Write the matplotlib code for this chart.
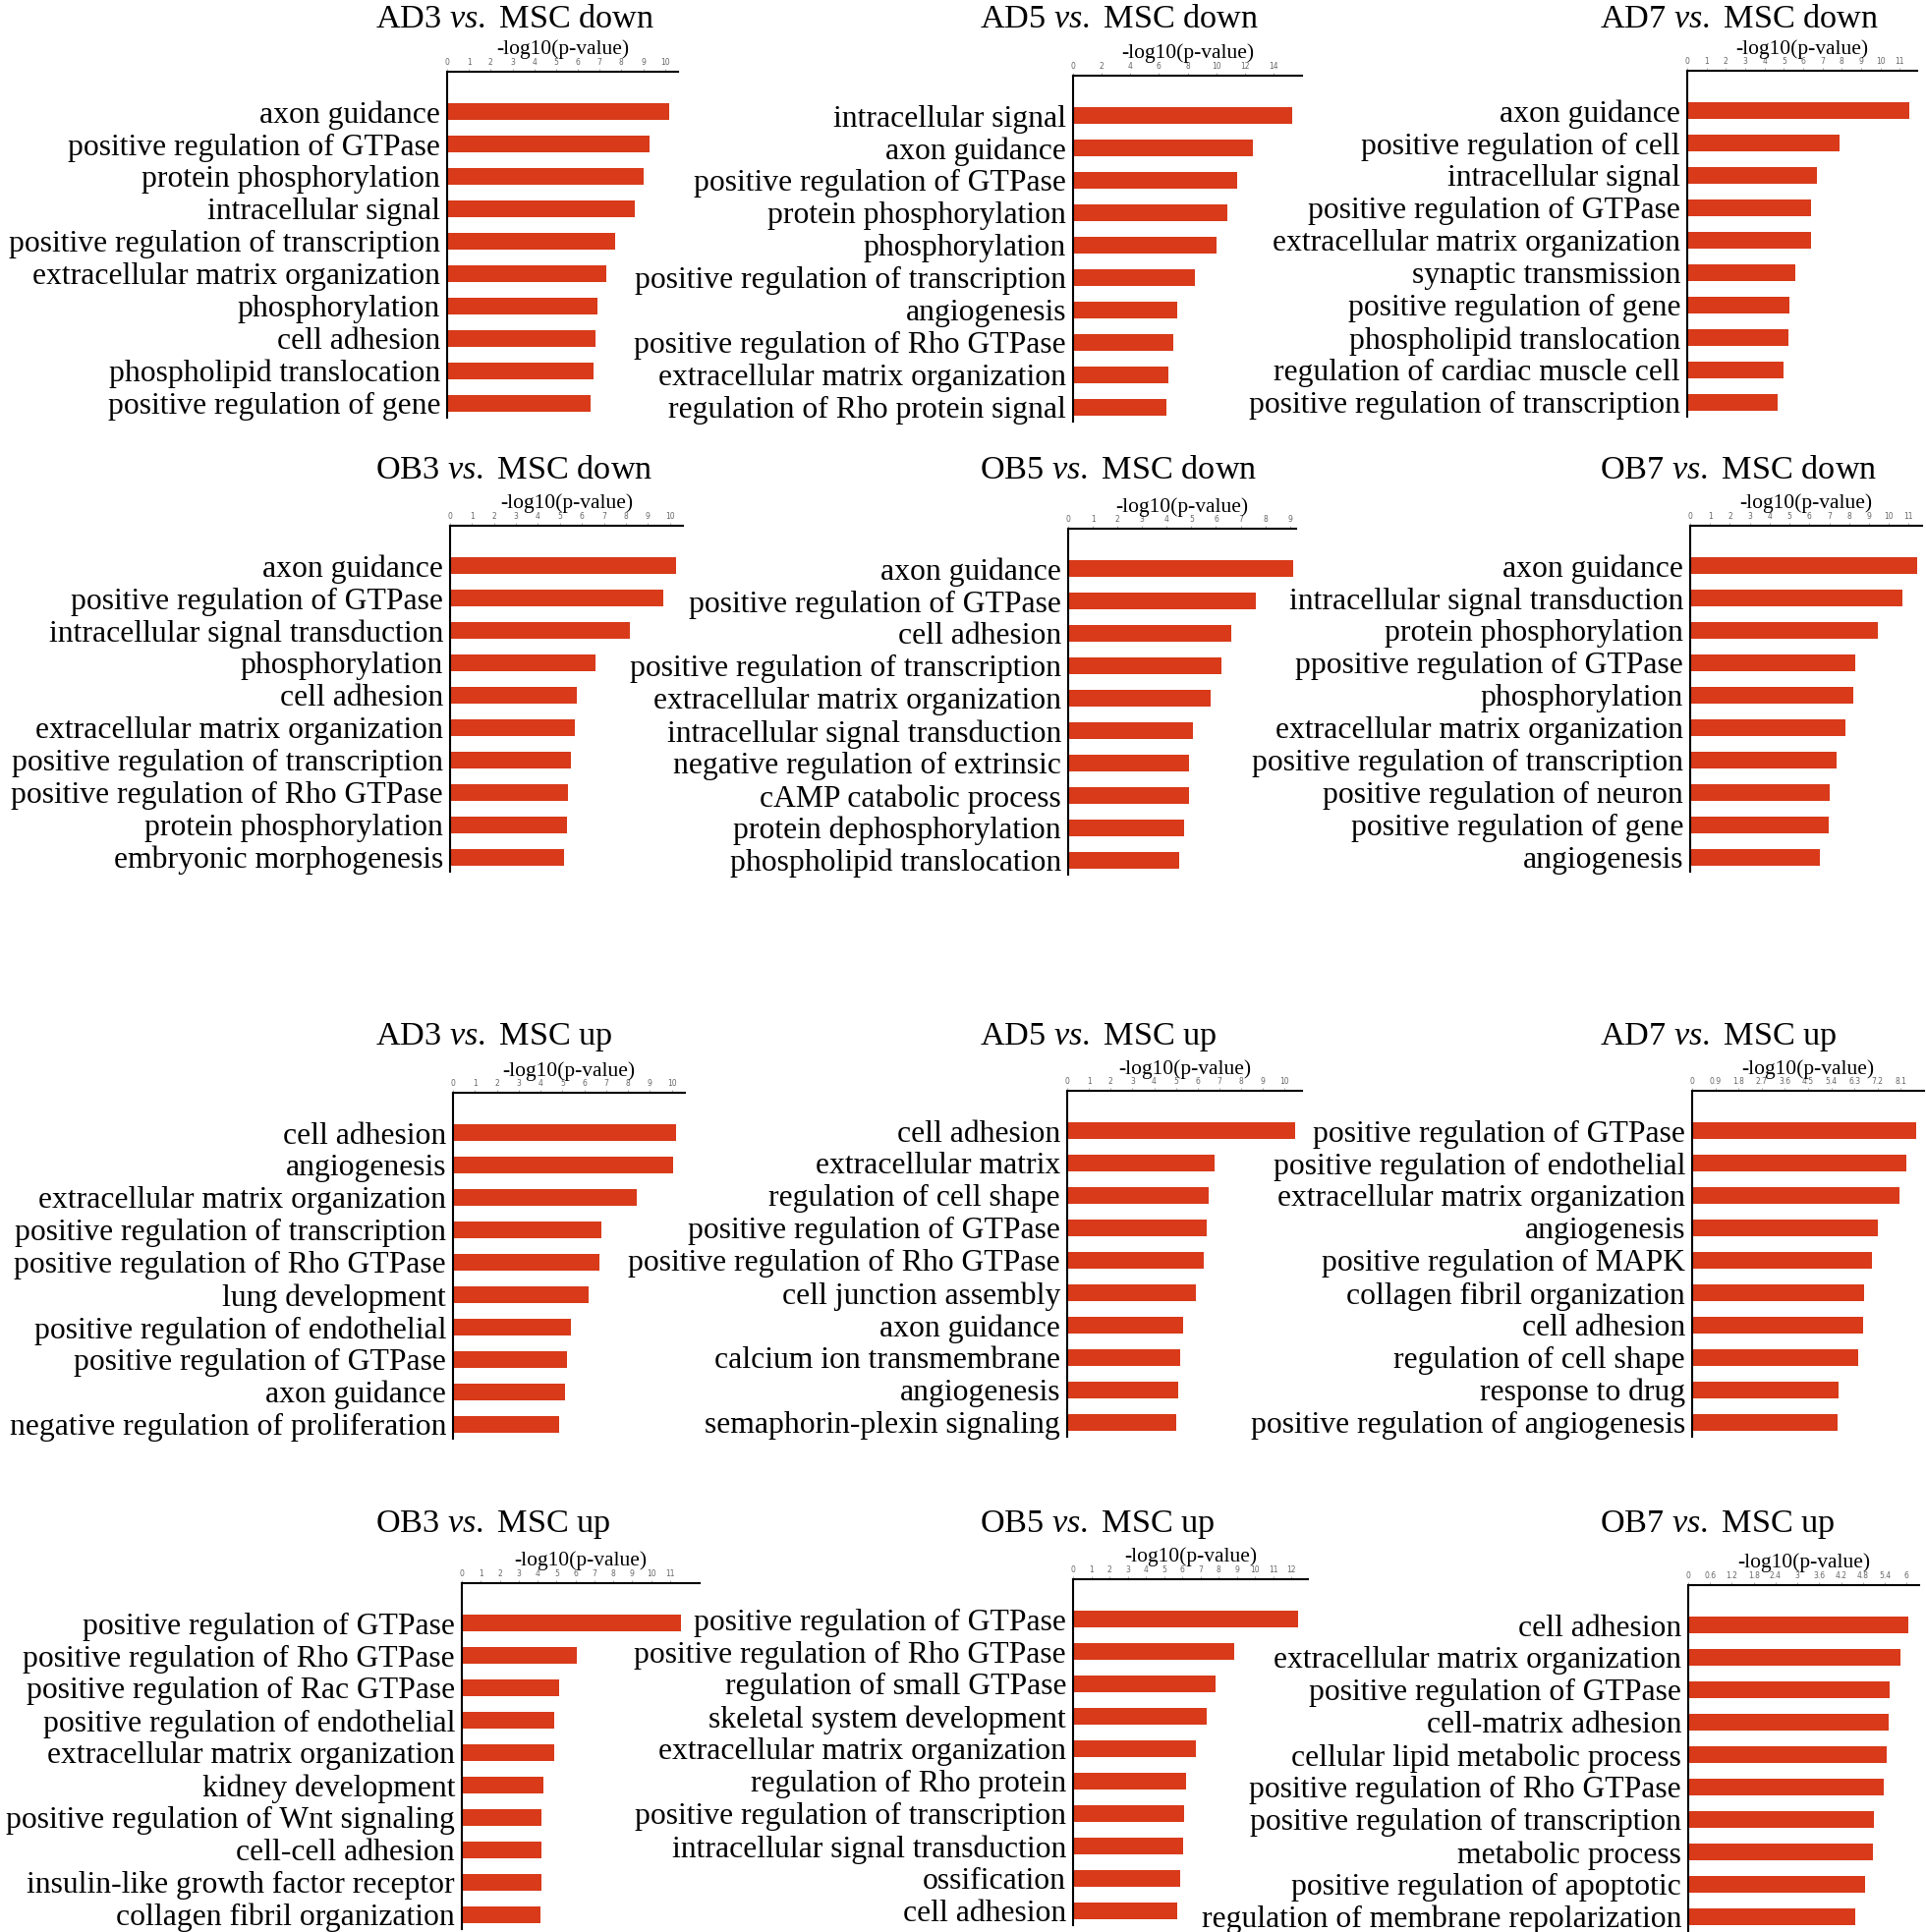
import matplotlib
matplotlib.use("Agg")
import matplotlib.pyplot as plt

# serif text like the figure, italic "vs." via mathtext
plt.rcParams['font.family'] = ['Liberation Serif', 'DejaVu Serif']
plt.rcParams['mathtext.fontset'] = 'custom'
plt.rcParams['mathtext.rm'] = 'Liberation Serif'
plt.rcParams['mathtext.it'] = 'Liberation Serif:italic'

# ---- data: GO terms and -log10(p-value) per comparison ----
ad3_down_terms = ["axon guidance", "positive regulation of GTPase", "protein phosphorylation",
                  "intracellular signal", "positive regulation of transcription",
                  "extracellular matrix organization", "phosphorylation", "cell adhesion",
                  "phospholipid translocation", "positive regulation of gene"]
ad3_down_vals = [10.2, 9.3, 9.0, 8.6, 7.7, 7.3, 6.9, 6.8, 6.7, 6.6]

ad5_down_terms = ["intracellular signal", "axon guidance", "positive regulation of GTPase",
                  "protein phosphorylation", "phosphorylation", "positive regulation of transcription",
                  "angiogenesis", "positive regulation of Rho GTPase",
                  "extracellular matrix organization", "regulation of Rho protein signal"]
ad5_down_vals = [15.3, 12.6, 11.5, 10.8, 10.0, 8.5, 7.25, 7.0, 6.65, 6.5]

ad7_down_terms = ["axon guidance", "positive regulation of cell", "intracellular signal",
                  "positive regulation of GTPase", "extracellular matrix organization",
                  "synaptic transmission", "positive regulation of gene",
                  "phospholipid translocation", "regulation of cardiac muscle cell",
                  "positive regulation of transcription"]
ad7_down_vals = [11.5, 7.9, 6.7, 6.4, 6.4, 5.6, 5.3, 5.25, 5.0, 4.7]

ob3_down_terms = ["axon guidance", "positive regulation of GTPase", "intracellular signal transduction",
                  "phosphorylation", "cell adhesion", "extracellular matrix organization",
                  "positive regulation of transcription", "positive regulation of Rho GTPase",
                  "protein phosphorylation", "embryonic morphogenesis"]
ob3_down_vals = [10.3, 9.7, 8.2, 6.6, 5.75, 5.7, 5.5, 5.35, 5.3, 5.2]

ob5_down_terms = ["axon guidance", "positive regulation of GTPase", "cell adhesion",
                  "positive regulation of transcription", "extracellular matrix organization",
                  "intracellular signal transduction", "negative regulation of extrinsic",
                  "cAMP catabolic process", "protein dephosphorylation", "phospholipid translocation"]
ob5_down_vals = [9.15, 7.6, 6.6, 6.2, 5.8, 5.05, 4.9, 4.9, 4.7, 4.5]

ob7_down_terms = ["axon guidance", "intracellular signal transduction", "protein phosphorylation",
                  "ppositive regulation of GTPase", "phosphorylation",
                  "extracellular matrix organization", "positive regulation of transcription",
                  "positive regulation of neuron", "positive regulation of gene", "angiogenesis"]
ob7_down_vals = [11.4, 10.7, 9.45, 8.3, 8.2, 7.8, 7.35, 7.04, 6.98, 6.54]

ad3_up_terms = ["cell adhesion", "angiogenesis", "extracellular matrix organization",
                "positive regulation of transcription", "positive regulation of Rho GTPase",
                "lung development", "positive regulation of endothelial",
                "positive regulation of GTPase", "axon guidance",
                "negative regulation of proliferation"]
ad3_up_vals = [10.2, 10.06, 8.4, 6.8, 6.7, 6.2, 5.4, 5.2, 5.1, 4.87]

ad5_up_terms = ["cell adhesion", "extracellular matrix", "regulation of cell shape",
                "positive regulation of GTPase", "positive regulation of Rho GTPase",
                "cell junction assembly", "axon guidance", "calcium ion transmembrane",
                "angiogenesis", "semaphorin-plexin signaling"]
ad5_up_vals = [10.5, 6.76, 6.5, 6.4, 6.3, 5.9, 5.35, 5.2, 5.1, 5.0]

ad7_up_terms = ["positive regulation of GTPase", "positive regulation of endothelial",
                "extracellular matrix organization", "angiogenesis",
                "positive regulation of MAPK", "collagen fibril organization", "cell adhesion",
                "regulation of cell shape", "response to drug",
                "positive regulation of angiogenesis"]
ad7_up_vals = [8.7, 8.3, 8.03, 7.2, 6.98, 6.69, 6.64, 6.45, 5.69, 5.64]

ob3_up_terms = ["positive regulation of GTPase", "positive regulation of Rho GTPase",
                "positive regulation of Rac GTPase", "positive regulation of endothelial",
                "extracellular matrix organization", "kidney development",
                "positive regulation of Wnt signaling", "cell-cell adhesion",
                "insulin-like growth factor receptor", "collagen fibril organization"]
ob3_up_vals = [11.55, 6.08, 5.16, 4.9, 4.9, 4.3, 4.2, 4.18, 4.18, 4.15]

ob5_up_terms = ["positive regulation of GTPase", "positive regulation of Rho GTPase",
                "regulation of small GTPase", "skeletal system development",
                "extracellular matrix organization", "regulation of Rho protein",
                "positive regulation of transcription", "intracellular signal transduction",
                "ossification", "cell adhesion"]
ob5_up_vals = [12.37, 8.84, 7.82, 7.35, 6.73, 6.19, 6.12, 6.06, 5.86, 5.72]

ob7_up_terms = ["cell adhesion", "extracellular matrix organization", "positive regulation of GTPase",
                "cell-matrix adhesion", "cellular lipid metabolic process",
                "positive regulation of Rho GTPase", "positive regulation of transcription",
                "metabolic process", "positive regulation of apoptotic",
                "regulation of membrane repolarization"]
ob7_up_vals = [6.05, 5.84, 5.54, 5.51, 5.44, 5.37, 5.1, 5.07, 4.86, 4.59]

titles = [r"AD3 $\mathit{vs.}$ MSC down", r"AD5 $\mathit{vs.}$ MSC down", r"AD7 $\mathit{vs.}$ MSC down",
          r"OB3 $\mathit{vs.}$ MSC down", r"OB5 $\mathit{vs.}$ MSC down", r"OB7 $\mathit{vs.}$ MSC down",
          r"AD3 $\mathit{vs.}$ MSC up", r"AD5 $\mathit{vs.}$ MSC up", r"AD7 $\mathit{vs.}$ MSC up",
          r"OB3 $\mathit{vs.}$ MSC up", r"OB5 $\mathit{vs.}$ MSC up", r"OB7 $\mathit{vs.}$ MSC up"]

terms = [ad3_down_terms, ad5_down_terms, ad7_down_terms,
         ob3_down_terms, ob5_down_terms, ob7_down_terms,
         ad3_up_terms, ad5_up_terms, ad7_up_terms,
         ob3_up_terms, ob5_up_terms, ob7_up_terms]
vals = [ad3_down_vals, ad5_down_vals, ad7_down_vals,
        ob3_down_vals, ob5_down_vals, ob7_down_vals,
        ad3_up_vals, ad5_up_vals, ad7_up_vals,
        ob3_up_vals, ob5_up_vals, ob7_up_vals]

# axis ticks for each panel
ints = lambda n: [str(i) for i in range(n + 1)]
tick_vals = [list(range(11)), list(range(0, 15, 2)), list(range(12)),
             list(range(11)), list(range(10)), list(range(12)),
             list(range(11)), list(range(11)), [round(0.9 * i, 1) for i in range(10)],
             list(range(12)), list(range(13)), [round(0.6 * i, 1) for i in range(11)]]
tick_labels = [ints(10), [str(i) for i in range(0, 15, 2)], ints(11),
               ints(10), ints(9), ints(11),
               ints(10), ints(10),
               ["0", "0.9", "1.8", "2.7", "3.6", "4.5", "5.4", "6.3", "7.2", "8.1"],
               ints(11), ints(12),
               ["0", "0.6", "1.2", "1.8", "2.4", "3", "3.6", "4.2", "4.8", "5.4", "6"]]
x_max = [10.6, 16, 11.9, 10.6, 9.25, 11.67, 10.6, 10.8, 9.0, 12.56, 12.9, 6.34]

# ---- layout in pixels ----
W, H = 1960, 1966
# (left, right, top) of each axes box
boxes = [(455, 690, 73), (1092, 1325, 77), (1717, 1951, 72),
         (458, 695, 535), (1087, 1319, 538), (1720, 1956, 535),
         (461, 697, 1112), (1086, 1325, 1110), (1722, 1958, 1110),
         (470, 712, 1611), (1092, 1331, 1607), (1718, 1953, 1613)]
box_h = 352
title_x = [382, 997, 1628]
title_y = [28, 487, 1063, 1559]

bar_color = '#D83A1A'

fig = plt.figure(figsize=(W / 100, H / 100), dpi=100)

for i in range(12):
    l, r, t = boxes[i]
    ax = fig.add_axes([l / W, 1 - (t + box_h) / H, (r - l) / W, box_h / H])
    ax.barh(range(10), vals[i], height=0.52, color=bar_color)
    ax.set_ylim(9.45, -1.23)
    ax.set_xlim(0, x_max[i])

    ax.xaxis.tick_top()
    ax.set_xticks(tick_vals[i])
    ax.set_xticklabels(tick_labels[i], fontsize=5.5, color='#666666', family='DejaVu Sans')
    ax.tick_params(axis='x', length=2, width=0.5, pad=1.5, color='#888888')

    ax.set_yticks(range(10))
    ax.set_yticklabels(terms[i], fontsize=22.8)
    ax.tick_params(axis='y', length=0, pad=5)

    for side in ['right', 'bottom']:
        ax.spines[side].set_visible(False)
    for side in ['left', 'top']:
        ax.spines[side].set_linewidth(1.5)

    ax.annotate("-log10(p-value)", xy=(0.5, 1), xycoords='axes fraction',
                xytext=(0, 9), textcoords='offset points',
                ha='center', va='bottom', fontsize=15.5)

    fig.text(title_x[i % 3] / W, 1 - title_y[i // 3] / H, titles[i],
             ha='left', va='baseline', fontsize=24.7)

fig.savefig("out.png", dpi=100)
